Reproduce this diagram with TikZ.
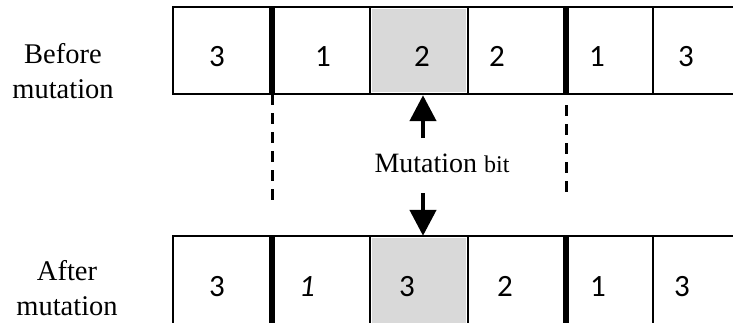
\documentclass[tikz,border=0pt]{standalone}
\usepackage{fontspec}
\setmainfont{Liberation Serif}
\newfontfamily\digitfont{Carlito}
\usetikzlibrary{arrows.meta}
\usetikzlibrary{calc}

\begin{document}
\begin{tikzpicture}[
    x=1pt,
    y=-1pt,
    >=latex,
    frame/.style={line width=2.4pt},
    thickbar/.style={line width=5.5pt},
    gene/.style={
        anchor=base,
        inner sep=0pt,
        font=\digitfont\fontsize{31}{31}\selectfont
    },
    side/.style={
        inner sep=0pt,
        align=center,
        font=\fontsize{28.5}{35}\selectfont
    },
    mutcell/.style={
        fill=black!15,
        draw=none,
        inner sep=0pt,
        minimum width=94pt
    },
    cut/.style={line width=3pt, dash pattern=on 11pt off 8pt},
    arrow/.style={-{Triangle[width=26pt,length=26pt]}, line width=4.5pt}
]
\useasboundingbox (0,0) rectangle (733,322);

% Mutated cells
\node[mutcell, minimum height=83pt] (mtop) at (419,50.5) {};
\node[mutcell, minimum height=92pt] (mbot) at (419,284) {};

% Chromosome before mutation
\draw[frame] (740,7) -- (173,7) -- (173,94) -- (740,94);
\foreach \x in {370,468,653}
    \draw[frame] (\x,7) -- (\x,94);
\foreach \x in {272,566}
    \draw[thickbar] (\x,7) -- (\x,94);

% Chromosome after mutation
\draw[frame] (740,236) -- (173,236) -- (173,330);
\foreach \x in {370,468,653}
    \draw[frame] (\x,236) -- (\x,330);
\foreach \x in {272,566}
    \draw[thickbar] (\x,236) -- (\x,330);

% Genes
\node[gene] (b1) at (217,66) {3};
\node[gene] (b2) at (323,66) {1};
\node[gene] (b3) at (422,66) {2};
\node[gene] (b4) at (497,66) {2};
\node[gene] (b5) at (597,66) {1};
\node[gene] (b6) at (686,66) {3};

\node[gene] (a1) at (217,296) {3};
\node[gene] (a2) at (307,296) {\itshape 1};
\node[gene] (a3) at (407,296) {3};
\node[gene] (a4) at (505,296) {2};
\node[gene] (a5) at (598,296) {1};
\node[gene] (a6) at (682,296) {3};

% Labels
\node[side] (beforelbl) at (63,71) {Before\\mutation};
\node[side] (afterlbl) at (67,288) {After\\mutation};
\node[anchor=base, inner sep=0pt, font=\fontsize{28}{32}\selectfont] (bitlbl) at (442,172)
    {Mutation {\fontsize{24}{28}\selectfont bit}};

% Segment cuts
\draw[cut] (272,94) -- (272,202);
\draw[cut] (566,105) -- (566,193);

% Arrows
\coordinate (upfoot) at (423,138);
\coordinate (downtop) at (423,193);
\draw[arrow] (upfoot) -- ($(upfoot |- mtop.south)+(0,3)$);
\draw[arrow] (downtop) -- ($(downtop |- mbot.north)+(0,-2)$);

\end{tikzpicture}
\end{document}
